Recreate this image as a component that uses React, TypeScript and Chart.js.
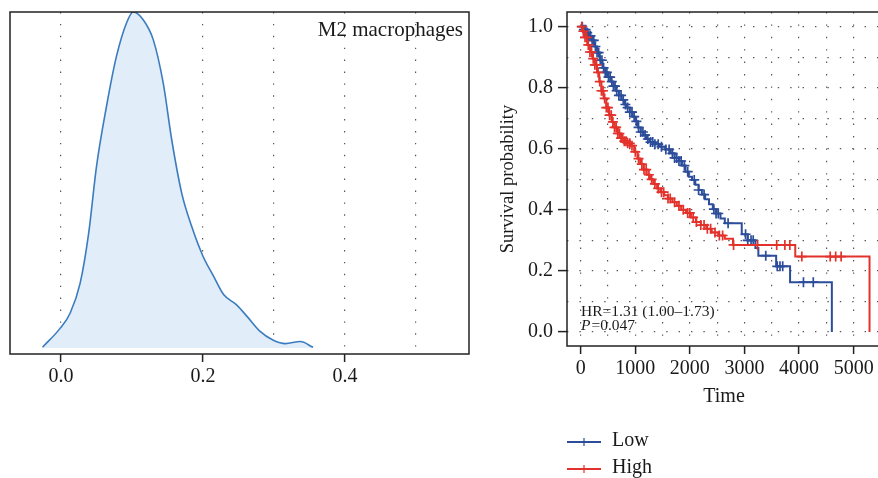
import React, { useEffect, useRef } from "react";
import { Chart, registerables } from "chart.js";
Chart.register(...registerables);

const FONT = '"Liberation Serif", "Times New Roman", serif';

// ---------- Left panel: density ----------
const densityX = [-0.026, -0.001, 0.013, 0.027, 0.039, 0.05, 0.064, 0.078, 0.093, 0.102, 0.116, 0.13, 0.144, 0.156, 0.17, 0.184, 0.2, 0.215, 0.229, 0.247, 0.262, 0.28, 0.299, 0.316, 0.337, 0.355];
const densityY = [0.002, 0.059, 0.104, 0.193, 0.342, 0.54, 0.718, 0.867, 0.971, 1.0, 0.976, 0.917, 0.788, 0.619, 0.461, 0.362, 0.273, 0.213, 0.159, 0.129, 0.094, 0.05, 0.023, 0.013, 0.019, 0.002];
const densityGrid = [0, 0.1, 0.2, 0.3, 0.4, 0.5];
const densityLabeled = [0, 0.2, 0.4];
const densityTitle = "M2 macrophages";

// ---------- Right panel: Kaplan-Meier ----------
const lowTimes = [0, 50, 100, 150, 200, 250, 300, 350, 400, 450, 500, 550, 600, 650, 700, 750, 800, 850, 900, 950, 1000, 1050, 1100, 1150, 1200, 1260, 1350, 1450, 1550, 1650, 1720, 1800, 1860, 1920, 1980, 2040, 2100, 2160, 2220, 2280, 2350, 2420, 2480, 2560, 2640, 2950, 3060, 3200, 3254, 3580, 3835, 4600];
const lowSurv = [1.0, 0.99, 0.98, 0.97, 0.955, 0.935, 0.915, 0.89, 0.865, 0.85, 0.835, 0.82, 0.805, 0.79, 0.775, 0.76, 0.745, 0.735, 0.72, 0.705, 0.69, 0.67, 0.655, 0.645, 0.632, 0.622, 0.615, 0.607, 0.598, 0.585, 0.57, 0.56, 0.545, 0.525, 0.508, 0.498, 0.482, 0.465, 0.45, 0.435, 0.418, 0.402, 0.388, 0.372, 0.356, 0.32, 0.3, 0.275, 0.25, 0.215, 0.163, 0];
const lowCensor = [30, 60, 90, 120, 150, 180, 210, 240, 270, 300, 330, 360, 390, 420, 450, 480, 510, 540, 570, 600, 630, 660, 700, 740, 780, 820, 860, 900, 940, 980, 1020, 1060, 1100, 1140, 1180, 1230, 1280, 1320, 1360, 1420, 1480, 1560, 1620, 1680, 1720, 1760, 1800, 1840, 1900, 1960, 2080, 2160, 2260, 2440, 2480, 2520, 2700, 3020, 3060, 3120, 3160, 3390, 3600, 3650, 3700, 4080, 4260];

const highTimes = [0, 30, 70, 120, 170, 220, 260, 300, 340, 380, 420, 470, 520, 570, 620, 680, 740, 800, 860, 920, 980, 1040, 1090, 1150, 1210, 1270, 1330, 1400, 1460, 1530, 1600, 1680, 1760, 1840, 1930, 2020, 2110, 2200, 2300, 2400, 2520, 2640, 2790, 3930, 5290];
const highSurv = [1.0, 0.985, 0.965, 0.94, 0.917, 0.895, 0.875, 0.85, 0.82, 0.79, 0.765, 0.735, 0.71, 0.688, 0.67, 0.65, 0.635, 0.625, 0.618, 0.61, 0.59, 0.568, 0.55, 0.532, 0.515, 0.5, 0.485, 0.47, 0.458, 0.448, 0.437, 0.425, 0.413, 0.4, 0.39, 0.375, 0.36, 0.35, 0.338, 0.326, 0.316, 0.305, 0.285, 0.247, 0];
const highCensor = [20, 50, 80, 110, 140, 170, 200, 230, 260, 290, 320, 350, 380, 410, 440, 470, 500, 530, 560, 590, 620, 650, 680, 710, 740, 770, 800, 830, 860, 900, 940, 1000, 1060, 1120, 1160, 1200, 1250, 1300, 1360, 1420, 1480, 1520, 1600, 1640, 1720, 1800, 1880, 1960, 2000, 2060, 2120, 2200, 2260, 2320, 2380, 2460, 2540, 2600, 2800, 3240, 3590, 3740, 3830, 4050, 4570, 4670, 4770];

const kmXGrid = [0, 500, 1000, 1500, 2000, 2500, 3000, 3500, 4000, 4500, 5000];
const kmYGrid = [0, 0.1, 0.2, 0.3, 0.4, 0.5, 0.6, 0.7, 0.8, 0.9, 1.0];
const groupNames = ["Low", "High"];
const hrText = "HR=1.31 (1.00\u20131.73)";
const pText = "=0.047";

const BLUE = "#2C4D9A";
const RED = "#E2322B";

function survAt(times: number[], surv: number[], t: number) {
  let s = surv[0];
  for (let i = 0; i < times.length; i++) {
    if (times[i] <= t) s = surv[i];
    else break;
  }
  return s;
}

const densityDecor = {
  id: "densityDecor",
  afterDraw(chart: any) {
    const { ctx, chartArea: a } = chart;
    ctx.save();
    ctx.strokeStyle = "#222";
    ctx.lineWidth = 1.5;
    ctx.strokeRect(a.left, a.top, a.right - a.left, a.bottom - a.top);
    ctx.fillStyle = "#1a1a1a";
    ctx.font = `21px ${FONT}`;
    ctx.textAlign = "right";
    ctx.textBaseline = "middle";
    ctx.fillText(densityTitle, a.right - 6, a.top + 18);
    ctx.restore();
  },
};

const kmDecor = {
  id: "kmDecor",
  afterDraw(chart: any) {
    const { ctx, chartArea: a } = chart;
    ctx.save();
    ctx.strokeStyle = "#222";
    ctx.lineWidth = 1.5;
    ctx.strokeRect(a.left, a.top, a.right - a.left, a.bottom - a.top);
    // HR / P text
    ctx.fillStyle = "#1a1a1a";
    ctx.textAlign = "left";
    ctx.textBaseline = "middle";
    const x0 = a.left + 14;
    ctx.font = `15.5px ${FONT}`;
    ctx.fillText(hrText, x0, a.bottom - 34);
    ctx.font = `italic 15.5px ${FONT}`;
    ctx.fillText("P", x0, a.bottom - 20);
    const pw = ctx.measureText("P").width;
    ctx.font = `15.5px ${FONT}`;
    ctx.fillText(pText, x0 + pw + 1, a.bottom - 20);
    // legend
    const colors = [BLUE, RED];
    groupNames.forEach((name, i) => {
      const y = 442 + i * 27;
      ctx.strokeStyle = colors[i];
      ctx.lineWidth = 2.2;
      ctx.beginPath();
      ctx.moveTo(a.left, y);
      ctx.lineTo(a.left + 34, y);
      ctx.stroke();
      ctx.lineWidth = 1.2;
      ctx.beginPath();
      ctx.moveTo(a.left + 17, y - 4);
      ctx.lineTo(a.left + 17, y + 4);
      ctx.stroke();
      ctx.fillStyle = "#1a1a1a";
      ctx.font = `20px ${FONT}`;
      ctx.fillText(name, a.left + 45, y - 1);
    });
    ctx.restore();
  },
};

function DensityChart() {
  const ref = useRef<HTMLCanvasElement>(null);
  useEffect(() => {
    const chart = new Chart(ref.current!, {
      type: "line",
      data: {
        datasets: [
          {
            data: densityX.map((x, i) => ({ x, y: densityY[i] })),
            borderColor: "#3B7CBF",
            backgroundColor: "#E1EDF8",
            borderWidth: 1.6,
            fill: "origin",
            pointRadius: 0,
            cubicInterpolationMode: "monotone",
          },
        ],
      },
      options: {
        responsive: false,
        animation: false,
        events: [],
        layout: { padding: { left: 10, right: 11, top: 12, bottom: 84 } },
        plugins: { legend: { display: false }, tooltip: { enabled: false } },
        scales: {
          x: {
            type: "linear",
            min: -0.0718,
            max: 0.5746,
            afterBuildTicks: (axis: any) => {
              axis.ticks = densityGrid.map((v) => ({ value: v }));
            },
            afterFit: (scale: any) => {
              scale.height = 40;
              scale.paddingLeft = 0;
              scale.paddingRight = 0;
            },
            ticks: {
              autoSkip: false,
              maxRotation: 0,
              padding: 3,
              color: "#1a1a1a",
              font: { family: FONT, size: 20 },
              callback: (v: any) =>
                densityLabeled.some((d) => Math.abs(d - v) < 1e-9) ? Number(v).toFixed(1) : "",
            },
            grid: {
              color: "#555",
              lineWidth: 1.2,
              tickLength: 8,
              tickWidth: 1.5,
              tickColor: (c: any) =>
                densityLabeled.some((d) => Math.abs(d - c.tick.value) < 1e-9) ? "#222" : "transparent",
            },
            border: { display: false, dash: [1.4, 10.5] },
          },
          y: {
            type: "linear",
            display: false,
            min: -0.018,
            max: 1.0,
          },
        },
      },
      plugins: [densityDecor],
    } as any);
    return () => chart.destroy();
  }, []);
  return (
    <canvas
      ref={ref}
      width={480}
      height={478}
      style={{ position: "absolute", left: 0, top: 0, width: 480, height: 478 }}
    />
  );
}

function KMChart() {
  const ref = useRef<HTMLCanvasElement>(null);
  useEffect(() => {
    const censorSet = (times: number[], surv: number[], cens: number[]) =>
      cens.map((t) => ({ x: t, y: survAt(times, surv, t) }));
    const chart = new Chart(ref.current!, {
      type: "line",
      data: {
        datasets: [
          {
            data: lowTimes.map((t, i) => ({ x: t, y: lowSurv[i] })),
            borderColor: BLUE,
            borderWidth: 2,
            stepped: true,
            pointRadius: 0,
            fill: false,
            order: 4,
          },
          {
            data: censorSet(lowTimes, lowSurv, lowCensor),
            showLine: false,
            pointStyle: "cross",
            pointRadius: 5,
            pointBorderWidth: 1.7,
            borderColor: BLUE,
            pointBorderColor: BLUE,
            order: 3,
          },
          {
            data: highTimes.map((t, i) => ({ x: t, y: highSurv[i] })),
            borderColor: RED,
            borderWidth: 2,
            stepped: true,
            pointRadius: 0,
            fill: false,
            order: 2,
          },
          {
            data: censorSet(highTimes, highSurv, highCensor),
            showLine: false,
            pointStyle: "cross",
            pointRadius: 5,
            pointBorderWidth: 1.7,
            borderColor: RED,
            pointBorderColor: RED,
            order: 1,
          },
        ],
      },
      options: {
        responsive: false,
        animation: false,
        events: [],
        layout: { padding: { left: 0, right: 9, top: 12, bottom: 62 } },
        plugins: { legend: { display: false }, tooltip: { enabled: false } },
        scales: {
          x: {
            type: "linear",
            min: -250,
            max: 5500,
            afterBuildTicks: (axis: any) => {
              axis.ticks = kmXGrid.map((v) => ({ value: v }));
            },
            afterFit: (scale: any) => {
              scale.height = 70;
              scale.paddingLeft = 0;
              scale.paddingRight = 0;
            },
            ticks: {
              autoSkip: false,
              maxRotation: 0,
              padding: 3,
              color: "#1a1a1a",
              font: { family: FONT, size: 20 },
              callback: (v: any) => (Number(v) % 1000 === 0 ? String(v) : ""),
            },
            title: {
              display: true,
              text: "Time",
              color: "#1a1a1a",
              font: { family: FONT, size: 20 },
              padding: { top: 0, bottom: 7 },
            },
            grid: {
              color: "#555",
              lineWidth: 1.2,
              tickLength: 8,
              tickWidth: 1.5,
              tickColor: (c: any) => (c.tick.value % 1000 === 0 ? "#222" : "transparent"),
            },
            border: { display: false, dash: [1.4, 11] },
          },
          y: {
            type: "linear",
            min: -0.046,
            max: 1.048,
            afterBuildTicks: (axis: any) => {
              axis.ticks = kmYGrid.map((v) => ({ value: v }));
            },
            afterFit: (scale: any) => {
              scale.width = 87;
              scale.paddingTop = 0;
              scale.paddingBottom = 0;
            },
            ticks: {
              autoSkip: false,
              padding: 5,
              color: "#1a1a1a",
              font: { family: FONT, size: 20 },
              callback: (v: any) => (Math.round(Number(v) * 10) % 2 === 0 ? Number(v).toFixed(1) : ""),
            },
            title: {
              display: true,
              text: "Survival probability",
              color: "#1a1a1a",
              font: { family: FONT, size: 18.5 },
              padding: { top: 17, bottom: 0 },
            },
            grid: {
              color: "#555",
              lineWidth: 1.2,
              tickLength: 9,
              tickWidth: 1.5,
              tickColor: (c: any) => (Math.round(c.tick.value * 10) % 2 === 0 ? "#222" : "transparent"),
            },
            border: { display: false, dash: [1.4, 11] },
          },
        },
      },
      plugins: [kmDecor],
    } as any);
    return () => chart.destroy();
  }, []);
  return (
    <canvas
      ref={ref}
      width={410}
      height={478}
      style={{ position: "absolute", left: 480, top: 0, width: 410, height: 478 }}
    />
  );
}

export default function App() {
  return (
    <div
      style={{
        position: "fixed",
        left: 0,
        top: 0,
        width: 878,
        height: 478,
        overflow: "hidden",
        background: "#fff",
      }}
    >
      <DensityChart />
      <KMChart />
    </div>
  );
}
